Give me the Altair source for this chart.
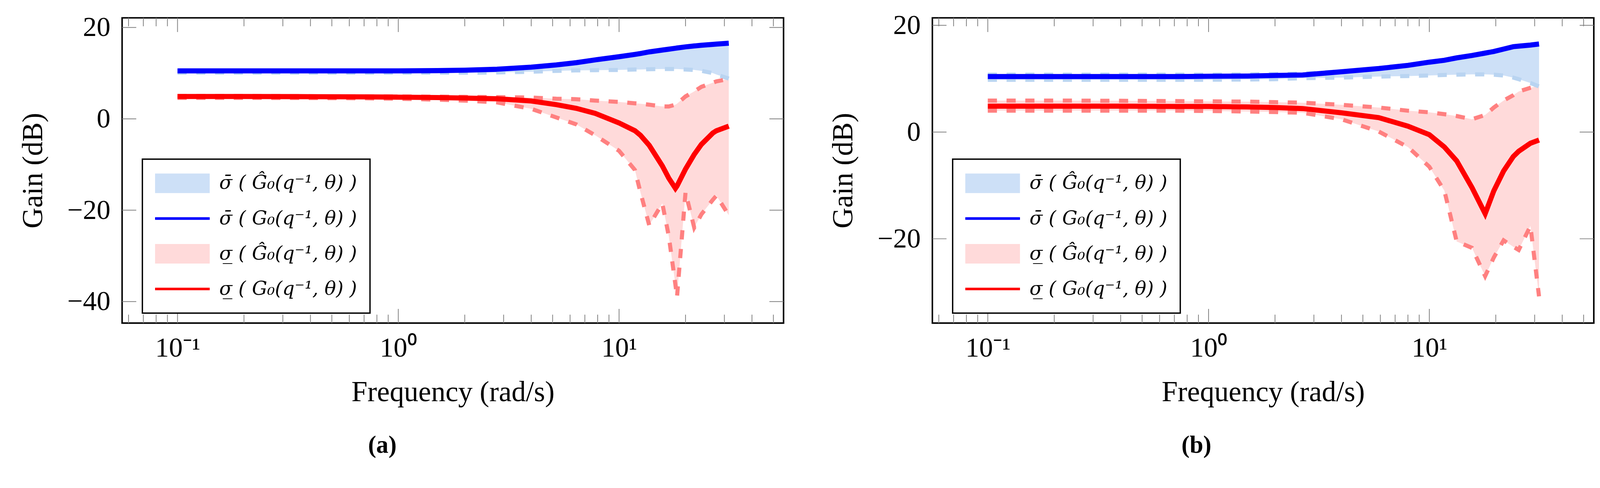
import altair as alt
import pandas as pd

# ---------------- data ----------------
freq_a = [0.1, 0.2, 0.4, 0.7, 1.0, 1.5, 2.0, 2.8, 4.0, 5.2, 6.4, 7.8, 10.0, 11.8, 12.5,
          13.7, 15.7, 16.8, 18.0, 18.3, 20.0, 21.9, 23.6, 26.6, 27.6, 31.4]
blue_a = [10.5, 10.5, 10.5, 10.5, 10.5, 10.55, 10.65, 10.85, 11.3, 11.8, 12.3, 12.9, 13.6, 14.1, 14.3,
          14.65, 15.05, 15.25, 15.45, 15.5, 15.75, 15.95, 16.1, 16.3, 16.35, 16.55]
blue_lo_a = [10.1, 10.1, 10.1, 10.1, 10.1, 10.1, 10.1, 10.15, 10.3, 10.5, 10.6, 10.65, 10.7, 10.8, 10.8,
             10.85, 10.9, 10.9, 10.9, 10.9, 10.8, 10.7, 10.5, 10.0, 9.7, 8.8]
red_a = [4.9, 4.9, 4.85, 4.8, 4.75, 4.65, 4.55, 4.4, 3.9, 3.1, 2.3, 1.2, -0.9, -2.6, -3.6,
         -5.8, -10.3, -13.0, -15.2, -14.7, -11.0, -7.8, -5.6, -3.1, -2.6, -1.6]
red_hi_a = [5.0, 5.0, 4.95, 4.9, 4.9, 4.85, 4.8, 4.75, 4.65, 4.4, 4.3, 4.0, 3.7, 3.4, 3.3,
            3.1, 2.7, 2.7, 3.1, 3.3, 4.9, 6.0, 7.0, 7.9, 8.2, 8.7]
red_lo_a = [4.6, 4.6, 4.55, 4.5, 4.4, 4.2, 4.0, 3.6, 2.2, 0.3, -1.2, -3.6, -7.0, -11.2, -16.1,
            -23.3, -18.5, -25.7, -36.3, -39.0, -16.1, -23.8, -20.9, -17.7, -16.8, -21.1]

freq_b = [0.1, 0.2, 0.4, 0.7, 1.0, 1.5, 2.0, 2.67, 4.0, 5.9, 8.0, 10.0, 11.7, 13.3, 15.6,
          17.9, 19.6, 21.7, 24.0, 25.4, 28.7, 31.4]
blue_b = [10.4, 10.4, 10.4, 10.4, 10.45, 10.5, 10.6, 10.7, 11.3, 11.9, 12.5, 13.1, 13.45, 13.9, 14.35,
          14.8, 15.1, 15.55, 16.0, 16.1, 16.3, 16.5]
blue_hi_b = [10.75, 10.75, 10.75, 10.75, 10.75, 10.8, 10.85, 10.95, 11.35, 11.9, 12.5, 13.1, 13.45, 13.9, 14.35,
             14.8, 15.1, 15.55, 16.0, 16.1, 16.3, 16.5]
blue_lo_b = [9.8, 9.8, 9.8, 9.8, 9.8, 9.85, 9.9, 10.1, 10.2, 10.4, 10.5, 10.6, 10.7, 10.75, 10.8,
             10.8, 10.75, 10.6, 10.2, 9.9, 9.2, 8.55]
red_b = [4.85, 4.85, 4.85, 4.8, 4.8, 4.7, 4.6, 4.4, 3.6, 2.7, 1.1, -0.5, -2.8, -5.4, -10.4,
         -15.3, -11.0, -7.3, -4.6, -3.6, -2.1, -1.5]
red_hi_b = [5.9, 5.9, 5.85, 5.8, 5.75, 5.7, 5.6, 5.5, 5.1, 4.6, 4.0, 3.7, 3.35, 3.0, 2.4,
            3.2, 4.6, 5.9, 6.9, 7.6, 8.3, 8.7]
red_lo_b = [4.0, 4.0, 4.0, 4.0, 3.95, 3.85, 3.75, 3.6, 2.4, 0.1, -2.8, -6.5, -11.0, -20.5, -21.7,
            -27.0, -23.5, -20.3, -21.5, -22.1, -17.6, -30.8]

x_major = [0.1, 1, 10]
x_minor = [0.06, 0.07, 0.08, 0.09, 0.2, 0.3, 0.4, 0.5, 0.6, 0.7, 0.8, 0.9,
           2, 3, 4, 5, 6, 7, 8, 9, 20, 30, 40, 50]
y_ticks_a = [-40, -20, 0, 20]
y_ticks_b = [-20, 0, 20]

legend_labels = [
    "\u03c3\u0304 ( \u011c\u2080(q\u207b\u00b9, \u03b8) )",
    "\u03c3\u0304 ( G\u2080(q\u207b\u00b9, \u03b8) )",
    "\u03c3\u0332 ( \u011c\u2080(q\u207b\u00b9, \u03b8) )",
    "\u03c3\u0332 ( G\u2080(q\u207b\u00b9, \u03b8) )",
]
captions = ["(a)", "(b)"]

# ---------------- styling ----------------
W, H = 1729, 797
FONT = "Liberation Serif"
LFONT = "DejaVu Serif"
XDOM = [0.0561, 55.6]
YDOM_A = [-44.7, 22.1]
YDOM_B = [-35.8, 21.4]

BLUE_FILL = "#cde0f7"
BLUE_DASH = "#b9d4f1"
BLUE = "#0000ff"
RED_FILL = "#ffdada"
RED_DASH = "#ff8080"
RED = "#ff0000"
TICK = "#808080"
DASH = [24, 25]
PATCH = "M-1,-0.357H1V0.357H-1Z"
LINE = "M-1,-0.047H1V0.047H-1Z"


def panel(freq, blue, blue_hi, blue_lo, red, red_hi, red_lo, ydom, yticks, caption, cap_dx):
    df = pd.DataFrame(dict(freq=freq, blue=blue, blue_hi=blue_hi, blue_lo=blue_lo,
                           red=red, red_hi=red_hi, red_lo=red_lo))
    xs = alt.Scale(type="log", domain=XDOM, nice=False)
    ys = alt.Scale(domain=ydom, nice=False, zero=False)

    x_axis = alt.Axis(values=x_major,
                      labelExpr="datum.value < 0.5 ? '10\u207b\u00b9' : (datum.value < 5 ? '10\u2070' : '10\u00b9')",
                      title="Frequency (rad/s)", grid=False, ticks=False, tickSize=0, domain=False,
                      labelFont=FONT, labelFontSize=72, labelColor="black", labelPadding=30,
                      titleFont=FONT, titleFontSize=75, titleFontWeight="normal", titleColor="black",
                      titlePadding=43, labelFlush=False)
    y_axis = alt.Axis(values=yticks, title="Gain (dB)", grid=False, ticks=False, tickSize=0, domain=False,
                      labelFont=FONT, labelFontSize=72, labelColor="black", labelPadding=31,
                      titleFont=FONT, titleFontSize=75, titleFontWeight="normal", titleColor="black",
                      titlePadding=50, labelFlush=False)

    def X(field):
        return alt.X(f"{field}:Q", scale=xs, axis=x_axis)

    def Y(field):
        return alt.Y(f"{field}:Q", scale=ys, axis=y_axis)

    base = alt.Chart(df)
    area_blue = base.mark_area(color=BLUE_FILL, opacity=1).encode(
        x=X("freq"), y=Y("blue_lo"), y2="blue_hi:Q")
    area_red = base.mark_area(color=RED_FILL, opacity=1).encode(
        x=X("freq"), y=Y("red_lo"), y2="red_hi:Q")

    def line(field, color, width, dash=None):
        kw = dict(color=color, strokeWidth=width)
        if dash:
            kw["strokeDash"] = dash
        return base.mark_line(**kw).encode(x=X("freq"), y=Y(field))

    layers = [area_blue, area_red,
              line("blue_lo", BLUE_DASH, 10.7, DASH), line("blue_hi", BLUE_DASH, 10.7, DASH),
              line("red_lo", RED_DASH, 10.7, DASH), line("red_hi", RED_DASH, 10.7, DASH),
              line("blue", BLUE, 13.3), line("red", RED, 13.3)]

    # inward ticks on all four sides
    def xt(vals, length, top):
        y0, y1 = (0, length) if top else (H, H - length)
        return alt.Chart(pd.DataFrame({"v": vals})).mark_rule(color=TICK, strokeWidth=2).encode(
            x=X("v"), y=alt.value(y0), y2=alt.value(y1))

    def yt(vals, length, left):
        x0, x1 = (0, length) if left else (W, W - length)
        return alt.Chart(pd.DataFrame({"v": vals})).mark_rule(color=TICK, strokeWidth=2).encode(
            y=Y("v"), x=alt.value(x0), x2=alt.value(x1))

    layers += [xt(x_major, 37, True), xt(x_major, 37, False),
               xt(x_minor, 22, True), xt(x_minor, 22, False),
               yt(yticks, 37, True), yt(yticks, 37, False)]

    leg = alt.Legend(title=None, orient="none", legendX=53, legendY=369, direction="vertical",
                     symbolSize=20449, symbolOpacity=1, symbolStrokeWidth=0, clipHeight=60,
                     labelFont=LFONT, labelFontSize=50, labelFontStyle="italic", labelColor="black",
                     labelOffset=25, labelLimit=0, rowPadding=32, padding=33,
                     strokeColor="black", fillColor="white")
    legend_layer = alt.Chart(pd.DataFrame({"entry": legend_labels})).mark_point(filled=True).encode(
        color=alt.Color("entry:N", scale=alt.Scale(domain=legend_labels,
                                                   range=[BLUE_FILL, BLUE, RED_FILL, RED]), legend=leg),
        shape=alt.Shape("entry:N", scale=alt.Scale(domain=legend_labels,
                                                   range=[PATCH, LINE, PATCH, LINE]), legend=leg),
        opacity=alt.value(0))
    layers.append(legend_layer)

    return alt.layer(*layers).properties(
        width=W, height=H,
        title=alt.TitleParams(caption, orient="bottom", anchor="middle", frame="bounds",
                              font=FONT, fontSize=64, fontWeight="bold", color="black",
                              offset=70, dx=cap_dx))


pa = panel(freq_a, blue_a, blue_a, blue_lo_a, red_a, red_hi_a, red_lo_a, YDOM_A, y_ticks_a, captions[0], -50)
pb = panel(freq_b, blue_b, blue_hi_b, blue_lo_b, red_b, red_hi_b, red_lo_b, YDOM_B, y_ticks_b, captions[1], -40)

chart = alt.hconcat(pa, pb, spacing=114).resolve_scale(
    x="independent", y="independent", color="independent", shape="independent"
).resolve_legend(color="independent", shape="independent").properties(
    padding={"left": 39, "top": 7, "right": 5, "bottom": 5}
).configure_view(stroke="black", strokeWidth=4).configure_legend(strokeWidth=3.5, cornerRadius=0)

chart.save("out.html", embed_options={"renderer": "svg", "actions": False})
